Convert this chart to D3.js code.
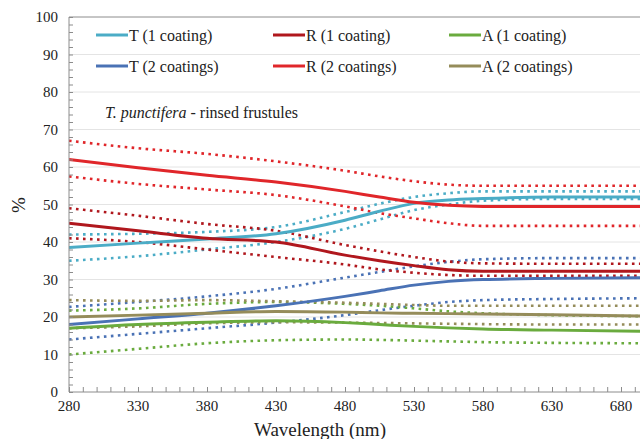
<!DOCTYPE html>
<meta charset="utf-8">
<style>
body { margin: 0; background: #fff; }
.mean { fill: none; stroke-width: 3px; }
.band { fill: none; stroke-width: 2.6px; stroke-dasharray: 2.6,4.4; }
</style>
<body>
<script src="https://d3js.org/d3.v7.min.js"></script>
<script>

var wl = [280, 330, 380, 430, 480, 505, 530, 555, 580, 630, 700];

var t1Mean = [38.5, 39.7, 40.8, 42.2, 45.8, 48.2, 50.3, 51.2, 51.6, 52, 52];
var t1Up   = [42, 42.2, 42.7, 44, 48, 50.2, 52, 53, 53.5, 53.5, 53.5];
var t1Lo   = [35, 36.2, 38, 40, 43.5, 46, 48.5, 50, 51, 51.5, 51.5];

var t2Mean = [18, 19.5, 21, 23, 25.5, 27, 28.5, 29.5, 30, 30.3, 30.5];
var t2Up   = [22.7, 24, 25.5, 27.5, 30.5, 32, 33.5, 34.7, 35.4, 35.7, 35.7];
var t2Lo   = [14, 15.5, 17, 18.5, 20.5, 21.8, 23, 24, 24.5, 24.8, 25];

var r1Mean = [45, 43, 41, 40, 36.5, 35, 33.7, 32.6, 32.2, 32.2, 32.2];
var r1Up   = [49, 47, 44.8, 43, 39.2, 37.5, 36, 34.8, 34.3, 34.2, 34.2];
var r1Lo   = [41, 40, 38, 36, 34, 32.7, 31.8, 31.2, 31, 31, 31];

var r2Mean = [62, 59.8, 57.8, 56, 53.5, 52, 50.6, 49.8, 49.5, 49.5, 49.5];
var r2Up   = [67, 65, 63.5, 61.5, 59, 57.5, 56.2, 55.3, 55, 55, 55];
var r2Lo   = [57.5, 55.5, 54, 52.5, 49.5, 47.7, 46.3, 45, 44.3, 44.3, 44.3];

var a1Mean = [17, 18, 18.6, 19, 18.5, 18, 17.5, 17.1, 16.8, 16.5, 16.2];
var a1Up   = [21.7, 22.3, 23.5, 24, 23.5, 23, 22.3, 21.5, 21, 20.5, 20.2];
var a1Lo   = [10, 11.5, 13, 13.8, 14, 13.9, 13.7, 13.5, 13.3, 13.1, 13];

var a2Mean = [20, 20.5, 21, 21.5, 21.3, 21.1, 21, 20.9, 20.8, 20.6, 20.2];
var a2Up   = [24.5, 24.3, 24.5, 24.2, 23.8, 23.5, 23.2, 23, 23, 23, 23];
var a2Lo   = [17, 17.5, 18.3, 18.6, 18.5, 18.4, 18.3, 18.2, 18.1, 18, 18];

var series = [
    {name: "T (1 coating)",  color: "#4bacc6", mean: t1Mean, up: t1Up, lo: t1Lo},
    {name: "T (2 coatings)", color: "#4a72b5", mean: t2Mean, up: t2Up, lo: t2Lo},
    {name: "R (1 coating)",  color: "#b0171d", mean: r1Mean, up: r1Up, lo: r1Lo},
    {name: "R (2 coatings)", color: "#e0262a", mean: r2Mean, up: r2Up, lo: r2Lo},
    {name: "A (1 coating)",  color: "#6aab3e", mean: a1Mean, up: a1Up, lo: a1Lo},
    {name: "A (2 coatings)", color: "#958c5a", mean: a2Mean, up: a2Up, lo: a2Lo}
];

var xTicks = d3.range(280, 681, 50);
var yTicks = d3.range(0, 101, 10);

var W = 640, H = 439;
var FONT = "Liberation Serif";
var x = d3.scaleLinear().domain([280, 680]).range([69, 621]);
var y = d3.scaleLinear().domain([0, 100]).range([392, 17]);

var svg = d3.select("body").append("svg")
    .attr("width", W)
    .attr("height", H);

svg.append("defs").append("clipPath").attr("id", "clip")
    .append("rect")
    .attr("x", x(280)).attr("y", y(100))
    .attr("width", W - x(280)).attr("height", y(0) - y(100));

// gridlines
svg.append("g").selectAll("line")
    .data(yTicks.filter(function(d) { return d > 0 && d < 100; }))
    .enter().append("line")
    .attr("x1", x(280)).attr("x2", W)
    .attr("y1", function(d) { return y(d); })
    .attr("y2", function(d) { return y(d); })
    .attr("stroke", "#e4e4e4");

// top border
svg.append("line")
    .attr("x1", x(280)).attr("x2", W)
    .attr("y1", y(100)).attr("y2", y(100))
    .attr("stroke", "#8c8c8c");

// lines
var plot = svg.append("g").attr("clip-path", "url(#clip)");

function lineOf(vals) {
    return d3.line()
        .x(function(d, i) { return x(wl[i]); })
        .y(function(d) { return y(d); })
        .curve(d3.curveMonotoneX)(vals);
}

series.forEach(function(s) {
    [s.up, s.lo].forEach(function(b) {
        plot.append("path")
            .attr("class", "band")
            .attr("stroke", s.color)
            .attr("d", lineOf(b));
    });
});
series.forEach(function(s) {
    plot.append("path")
        .attr("class", "mean")
        .attr("stroke", s.color)
        .attr("d", lineOf(s.mean));
});

// axes
var xAxis = d3.axisBottom(x)
    .tickValues(d3.range(280, 701, 10))
    .tickSize(-5)
    .tickFormat("");
var gX = svg.append("g")
    .attr("transform", "translate(0," + y(0) + ")")
    .call(xAxis);
gX.select(".domain").attr("d", "M" + x(280) + ",0H" + W);

svg.append("g").selectAll("text")
    .data(xTicks)
    .enter().append("text")
    .attr("x", function(d) { return x(d); })
    .attr("y", y(0) + 19)
    .attr("text-anchor", "middle")
    .style("font-size", "15px")
    .text(function(d) { return d; });

var yAxis = d3.axisLeft(y)
    .tickValues(d3.range(0, 101, 2))
    .tickSize(-4)
    .tickFormat("");
var gY = svg.append("g")
    .attr("transform", "translate(" + x(280) + ",0)")
    .call(yAxis);
gY.select(".domain").attr("d", "M0," + y(0) + "V" + y(100));

svg.append("g").selectAll("text")
    .data(yTicks)
    .enter().append("text")
    .attr("x", 58)
    .attr("y", function(d) { return y(d); })
    .attr("dy", "0.35em")
    .attr("text-anchor", "end")
    .style("font-size", "15px")
    .text(function(d) { return d; });

svg.selectAll(".tick line").attr("stroke", "#8c8c8c");
svg.selectAll(".domain").attr("stroke", "#8c8c8c");

// axis labels
svg.append("text")
    .attr("x", 320).attr("y", 436)
    .attr("text-anchor", "middle")
    .style("font-size", "19px")
    .text("Wavelength (nm)");

svg.append("text")
    .attr("transform", "translate(25,205) rotate(-90)")
    .attr("text-anchor", "middle")
    .style("font-size", "19px")
    .text("%");

// legend
var legendX = [96, 273, 449];
var legendY = [35, 66];
var order = [0, 2, 4, 1, 3, 5];
order.forEach(function(si, k) {
    var s = series[si];
    var lx = legendX[k % 3], ly = legendY[Math.floor(k / 3)];
    svg.append("line")
        .attr("x1", lx).attr("x2", lx + 32)
        .attr("y1", ly).attr("y2", ly)
        .attr("stroke", s.color)
        .attr("stroke-width", 3);
    svg.append("text")
        .attr("x", lx + 33).attr("y", ly)
        .attr("dy", "0.35em")
        .style("font-size", "16px")
        .text(s.name);
});

// annotation
var note = svg.append("text")
    .attr("x", 105).attr("y", 118)
    .style("font-size", "16px");
note.append("tspan").style("font-style", "italic").text("T. punctifera");
note.append("tspan").text(" - rinsed frustules");

svg.selectAll("text")
    .style("font-family", FONT)
    .style("fill", "#222");

</script>
</body>
